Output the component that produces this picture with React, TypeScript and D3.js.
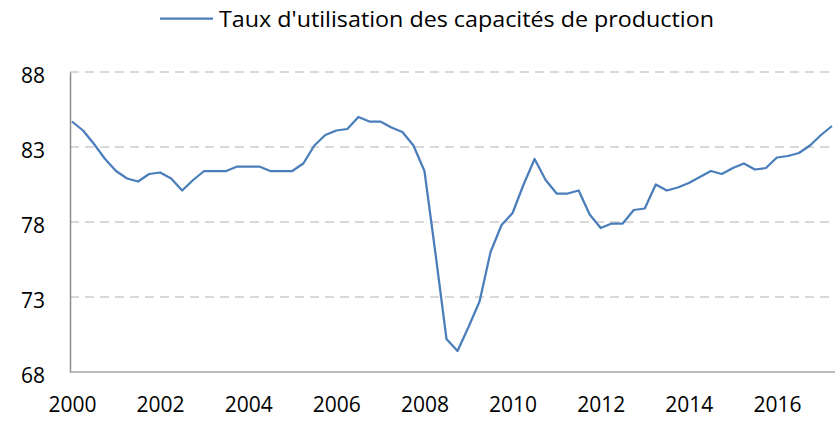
import * as d3 from "d3";
import { useRef, useEffect } from "react";

// taux d'utilisation des capacités, trimestriel, 2000T1 -> 2017T2
const quarters = d3.range(70);
const values = [
  84.7, 84.1, 83.2, 82.2, 81.4, 80.9, 80.7, 81.2, 81.3, 80.9,
  80.1, 80.8, 81.4, 81.4, 81.4, 81.7, 81.7, 81.7, 81.4, 81.4,
  81.4, 81.9, 83.1, 83.8, 84.1, 84.2, 85.0, 84.7, 84.7, 84.3,
  84.0, 83.1, 81.4, 75.9, 70.2, 69.4, 71.0, 72.7, 76.0, 77.8,
  78.6, 80.5, 82.2, 80.8, 79.9, 79.9, 80.1, 78.5, 77.6, 77.9,
  77.9, 78.8, 78.9, 80.5, 80.1, 80.3, 80.6, 81.0, 81.4, 81.2,
  81.6, 81.9, 81.5, 81.6, 82.3, 82.4, 82.6, 83.1, 83.8, 84.4,
];
const yearLabels = ["2000", "2002", "2004", "2006", "2008", "2010", "2012", "2014", "2016"];
const yTicks = [68, 73, 78, 83, 88];
const seriesName = "Taux d'utilisation des capacités de production";

const width = 838;
const height = 421;
const margin = { top: 72, bottom: 49, left: 70, right: 3 };
const lineColor = "#4a7ebb";
const font = "'Open Sans', sans-serif";

const App = () => {
  const chartRef = useRef(null);

  useEffect(() => {
    const svg = d3.select(chartRef.current);
    svg.selectAll("*").remove();

    const x = d3.scaleLinear().domain([0, quarters.length - 1]).range([margin.left + 2, width - margin.right - 3]);
    const y = d3.scaleLinear().domain([68, 88]).range([height - margin.bottom, margin.top]);

    // grille horizontale pointillée
    svg.append("g")
      .selectAll("line")
      .data(yTicks.filter(t => t > 68))
      .enter()
      .append("line")
      .attr("x1", margin.left)
      .attr("x2", width - margin.right)
      .attr("y1", d => y(d))
      .attr("y2", d => y(d))
      .attr("stroke", "#d9d9d9")
      .attr("stroke-width", 2)
      .attr("stroke-dasharray", "9,6");

    // axe Y
    const yAxis = d3.axisLeft(y).tickValues(yTicks).tickSize(0).tickPadding(25);
    const gy = svg.append("g")
      .attr("transform", `translate(${margin.left}, 0)`)
      .call(yAxis);
    gy.select(".domain").attr("stroke", "#8c8c8c").attr("stroke-width", 1.5);
    gy.selectAll("text")
      .attr("font-family", font)
      .attr("font-size", 21)
      .attr("fill", "#000")
      .attr("dy", "0.5em");

    // axe X
    const xAxis = d3.axisBottom(x)
      .tickValues(yearLabels.map((_, i) => i * 8))
      .tickFormat((d, i) => yearLabels[i])
      .tickSize(0)
      .tickPadding(25);
    const gx = svg.append("g")
      .attr("transform", `translate(0, ${height - margin.bottom})`)
      .call(xAxis);
    gx.select(".domain")
      .attr("d", `M${margin.left},0H${width - margin.right}`)
      .attr("stroke", "#a6a6a6")
      .attr("stroke-width", 1.5);
    gx.selectAll("text")
      .attr("font-family", font)
      .attr("font-size", 21)
      .attr("fill", "#000");

    // courbe
    const line = d3.line()
      .x((d, i) => x(quarters[i]))
      .y(d => y(d));
    svg.append("path")
      .datum(values)
      .attr("d", line)
      .attr("fill", "none")
      .attr("stroke", lineColor)
      .attr("stroke-width", 2.25)
      .attr("stroke-linejoin", "round");

    // légende
    svg.append("line")
      .attr("x1", 160)
      .attr("x2", 213)
      .attr("y1", 18.5)
      .attr("y2", 18.5)
      .attr("stroke", lineColor)
      .attr("stroke-width", 2.25);
    svg.append("text")
      .attr("x", 219)
      .attr("y", 26.5)
      .attr("font-family", font)
      .attr("font-size", 22)
      .attr("textLength", 495)
      .attr("lengthAdjust", "spacingAndGlyphs")
      .attr("fill", "#000")
      .text(seriesName);
  }, []);

  return (
    <svg
      ref={chartRef}
      width={width}
      height={height}
      style={{ position: "absolute", left: 0, top: 0, background: "#fff" }}
    ></svg>
  );
};

export default App;
